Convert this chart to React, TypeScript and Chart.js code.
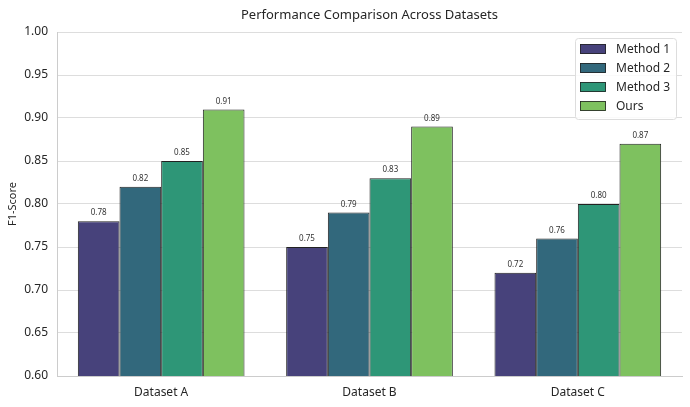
import React, { useEffect, useRef } from "react";
import { Chart, registerables } from "chart.js";

Chart.register(...registerables);

const categories = ["Dataset A", "Dataset B", "Dataset C"];
const seriesNames = ["Method 1", "Method 2", "Method 3", "Ours"];
const method1 = [0.78, 0.75, 0.72];
const method2 = [0.82, 0.79, 0.76];
const method3 = [0.85, 0.83, 0.8];
const ours = [0.91, 0.89, 0.87];
const colors = ["#47427b", "#32687c", "#2e9677", "#7ec15f"];
const yMin = 0.6;
const yMax = 1.0;
const yStep = 0.05;
const title = "Performance Comparison Across Datasets";
const yTitle = "F1-Score";

const FONT = "'Noto Sans', 'Open Sans', sans-serif";

export default function App() {
  const ref = useRef<HTMLCanvasElement | null>(null);
  useEffect(() => {
    document.body.style.margin = "0";
    const canvas = ref.current;
    if (!canvas) return;
    const values = [method1, method2, method3, ours];

    const overlay = {
      id: "overlay",
      afterDatasetsDraw(chart: any) {
        const ctx = chart.ctx;
        ctx.save();
        ctx.fillStyle = "#333333";
        ctx.font = `8px ${FONT}`;
        ctx.textAlign = "center";
        ctx.textBaseline = "bottom";
        chart.data.datasets.forEach((ds: any, i: number) => {
          const meta = chart.getDatasetMeta(i);
          meta.data.forEach((bar: any, j: number) => {
            ctx.fillText(Number(ds.data[j]).toFixed(2), bar.x, bar.y - 4);
          });
        });
        ctx.restore();
      },
      afterDraw(chart: any) {
        const ctx = chart.ctx;
        ctx.save();
        // title
        ctx.fillStyle = "#262626";
        ctx.font = `13px ${FONT}`;
        ctx.textAlign = "center";
        ctx.textBaseline = "middle";
        ctx.fillText(title, (chart.chartArea.left + chart.chartArea.right) / 2, 15);
        // legend
        const bx = 575, by = 38, bw = 101, bh = 81;
        ctx.beginPath();
        ctx.roundRect(bx + 0.5, by + 0.5, bw, bh, 3);
        ctx.fillStyle = "rgba(255,255,255,0.85)";
        ctx.fill();
        ctx.strokeStyle = "#dddddd";
        ctx.lineWidth = 1;
        ctx.stroke();
        chart.data.datasets.forEach((ds: any, i: number) => {
          const cy = 49 + i * 19;
          ctx.fillStyle = ds.backgroundColor;
          ctx.fillRect(580, cy - 5, 26, 10);
          ctx.strokeStyle = "#222222";
          ctx.lineWidth = 0.8;
          ctx.strokeRect(580.5, cy - 4.5, 25, 9);
          ctx.fillStyle = "#262626";
          ctx.font = `12px ${FONT}`;
          ctx.textAlign = "left";
          ctx.textBaseline = "middle";
          ctx.fillText(ds.label, 616, cy + 0.5);
        });
        ctx.restore();
      },
    };

    const chart = new Chart(canvas, {
      type: "bar",
      data: {
        labels: categories,
        datasets: seriesNames.map((name, i) => ({
          label: name,
          data: values[i],
          backgroundColor: colors[i],
          borderColor: "#222222",
          borderWidth: 1,
          categoryPercentage: 0.8,
          barPercentage: 1.0,
        })),
      },
      options: {
        animation: false,
        responsive: false,
        maintainAspectRatio: false,
        layout: { padding: { top: 32, right: 8, left: 6, bottom: 0 } },
        plugins: {
          legend: { display: false },
          title: { display: false },
          tooltip: { enabled: false },
        },
        scales: {
          x: {
            grid: { display: false },
            border: { display: true, color: "#cccccc", width: 1 },
            ticks: { color: "#262626", font: { family: FONT, size: 12 }, padding: 1 },
            afterFit(scale: any) {
              scale.height = 31;
            },
          },
          y: {
            min: yMin,
            max: yMax,
            ticks: {
              stepSize: yStep,
              color: "#262626",
              font: { family: FONT, size: 12 },
              padding: 9,
              callback: (v: any) => Number(v).toFixed(2),
            },
            grid: { color: "#dddddd", lineWidth: 1, drawTicks: false },
            border: { display: true, color: "#cccccc", width: 1 },
            title: {
              display: true,
              text: yTitle,
              color: "#262626",
              font: { family: FONT, size: 11 },
              padding: { top: 0, bottom: 4 },
            },
            afterFit(scale: any) {
              scale.width = 51;
            },
          },
        },
      },
      plugins: [overlay],
    });
    return () => chart.destroy();
  }, []);
  return <canvas ref={ref} width={690} height={407} style={{ display: "block" }} />;
}
